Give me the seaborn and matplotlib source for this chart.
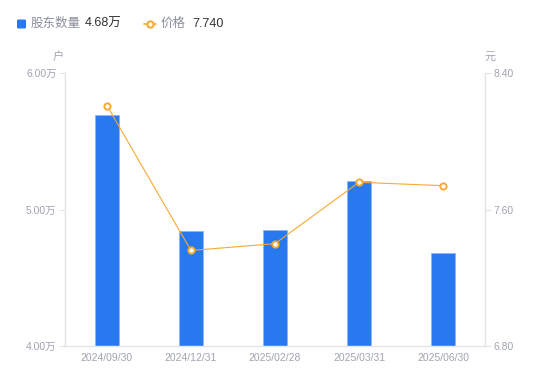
import numpy as np
import pandas as pd
import matplotlib
matplotlib.use('Agg')
import matplotlib.pyplot as plt
import seaborn as sns
from matplotlib.lines import Line2D
from matplotlib.patches import FancyBboxPatch

# Data
dates = ['2024/09/30', '2024/12/31', '2025/02/28', '2025/03/31', '2025/06/30']
holders_wan = [5.69, 4.84, 4.85, 5.21, 4.68]
price = [8.21, 7.36, 7.40, 7.76, 7.74]
left_ticks = [4.0, 5.0, 6.0]
right_ticks = [6.80, 7.60, 8.40]

BAR_COLOR = '#2878F0'
LINE_COLOR = '#F7A935'
TICK_COLOR = '#A0A4B0'
SPINE_COLOR = '#E3E5EA'

sns.set_theme(style='white')
plt.rcParams['font.family'] = ['Liberation Sans', 'Noto Sans CJK SC', 'DejaVu Sans']

df = pd.DataFrame({'date': dates, 'holders': holders_wan, 'price': price})
df['pos'] = np.arange(len(df))

fig = plt.figure(figsize=(5.5, 3.81), dpi=100)
ax = fig.add_axes([0.118, 0.092, 0.764, 0.716])

sns.barplot(data=df, x='date', y='holders', ax=ax, color=BAR_COLOR,
            width=0.29, saturation=1, edgecolor='#8DB6F7', linewidth=0.7)
ax.set_xlim(-0.5, len(dates) - 0.5)
ax.set_ylim(4.0, 6.0)
ax.set_yticks(left_ticks)
ax.set_yticklabels([f'{v:.2f}万' for v in left_ticks])
ax.set_xlabel('')
ax.set_ylabel('')

ax2 = ax.twinx()
sns.lineplot(data=df, x='pos', y='price', ax=ax2, color=LINE_COLOR, linewidth=0.8,
             marker='o', markersize=4.5, markerfacecolor='white',
             markeredgecolor=LINE_COLOR, markeredgewidth=1.4)
ax2.set_ylim(6.80, 8.40)
ax2.set_yticks(right_ticks)
ax2.set_yticklabels([f'{v:.2f}' for v in right_ticks])
ax2.set_xlim(-0.5, len(dates) - 0.5)
ax2.set_xlabel('')
ax2.set_ylabel('')

for a in (ax, ax2):
    a.spines['top'].set_visible(False)
    for side in ('left', 'right', 'bottom'):
        a.spines[side].set_color(SPINE_COLOR)
        a.spines[side].set_linewidth(0.9)
    a.tick_params(axis='y', colors=SPINE_COLOR, labelcolor=TICK_COLOR,
                  labelsize=7.5, length=4, width=0.8, pad=2)
    a.grid(False)
ax.tick_params(axis='x', labelcolor=TICK_COLOR, labelsize=7.5, length=0, pad=5)
ax.tick_params(axis='y', left=True)
ax2.tick_params(axis='y', right=True)

# unit labels
fig.text(58 / 550, 1 - 57 / 381, '户', color=TICK_COLOR, fontsize=8, ha='center', va='center')
fig.text(490 / 550, 1 - 57 / 381, '元', color=TICK_COLOR, fontsize=8, ha='center', va='center')

# legend row at top
ly = 1 - 24 / 381
fig.patches.append(FancyBboxPatch(
    (17 / 550, ly - 4.5 / 381), 9 / 550, 9 / 381, boxstyle='round,pad=0,rounding_size=0.003',
    transform=fig.transFigure, facecolor=BAR_COLOR, edgecolor='none', figure=fig))
fig.text(31 / 550, ly, '股东数量', color='#8A8F9C', fontsize=9, va='center')
fig.text(85 / 550, ly, '4.68万', color='#333333', fontsize=9, va='center')
fig.lines.append(Line2D([144 / 550, 156 / 550], [ly, ly], transform=fig.transFigure,
                        color=LINE_COLOR, linewidth=1.2, figure=fig))
fig.lines.append(Line2D([150 / 550], [ly], transform=fig.transFigure, color=LINE_COLOR,
                        marker='o', markersize=4.5, markerfacecolor='white',
                        markeredgewidth=1.5, linestyle='none', figure=fig))
fig.text(161 / 550, ly, '价格', color='#8A8F9C', fontsize=9, va='center')
fig.text(192 / 550, ly, '7.740', color='#333333', fontsize=9, va='center')

fig.savefig('out.png', dpi=100, facecolor='white')
